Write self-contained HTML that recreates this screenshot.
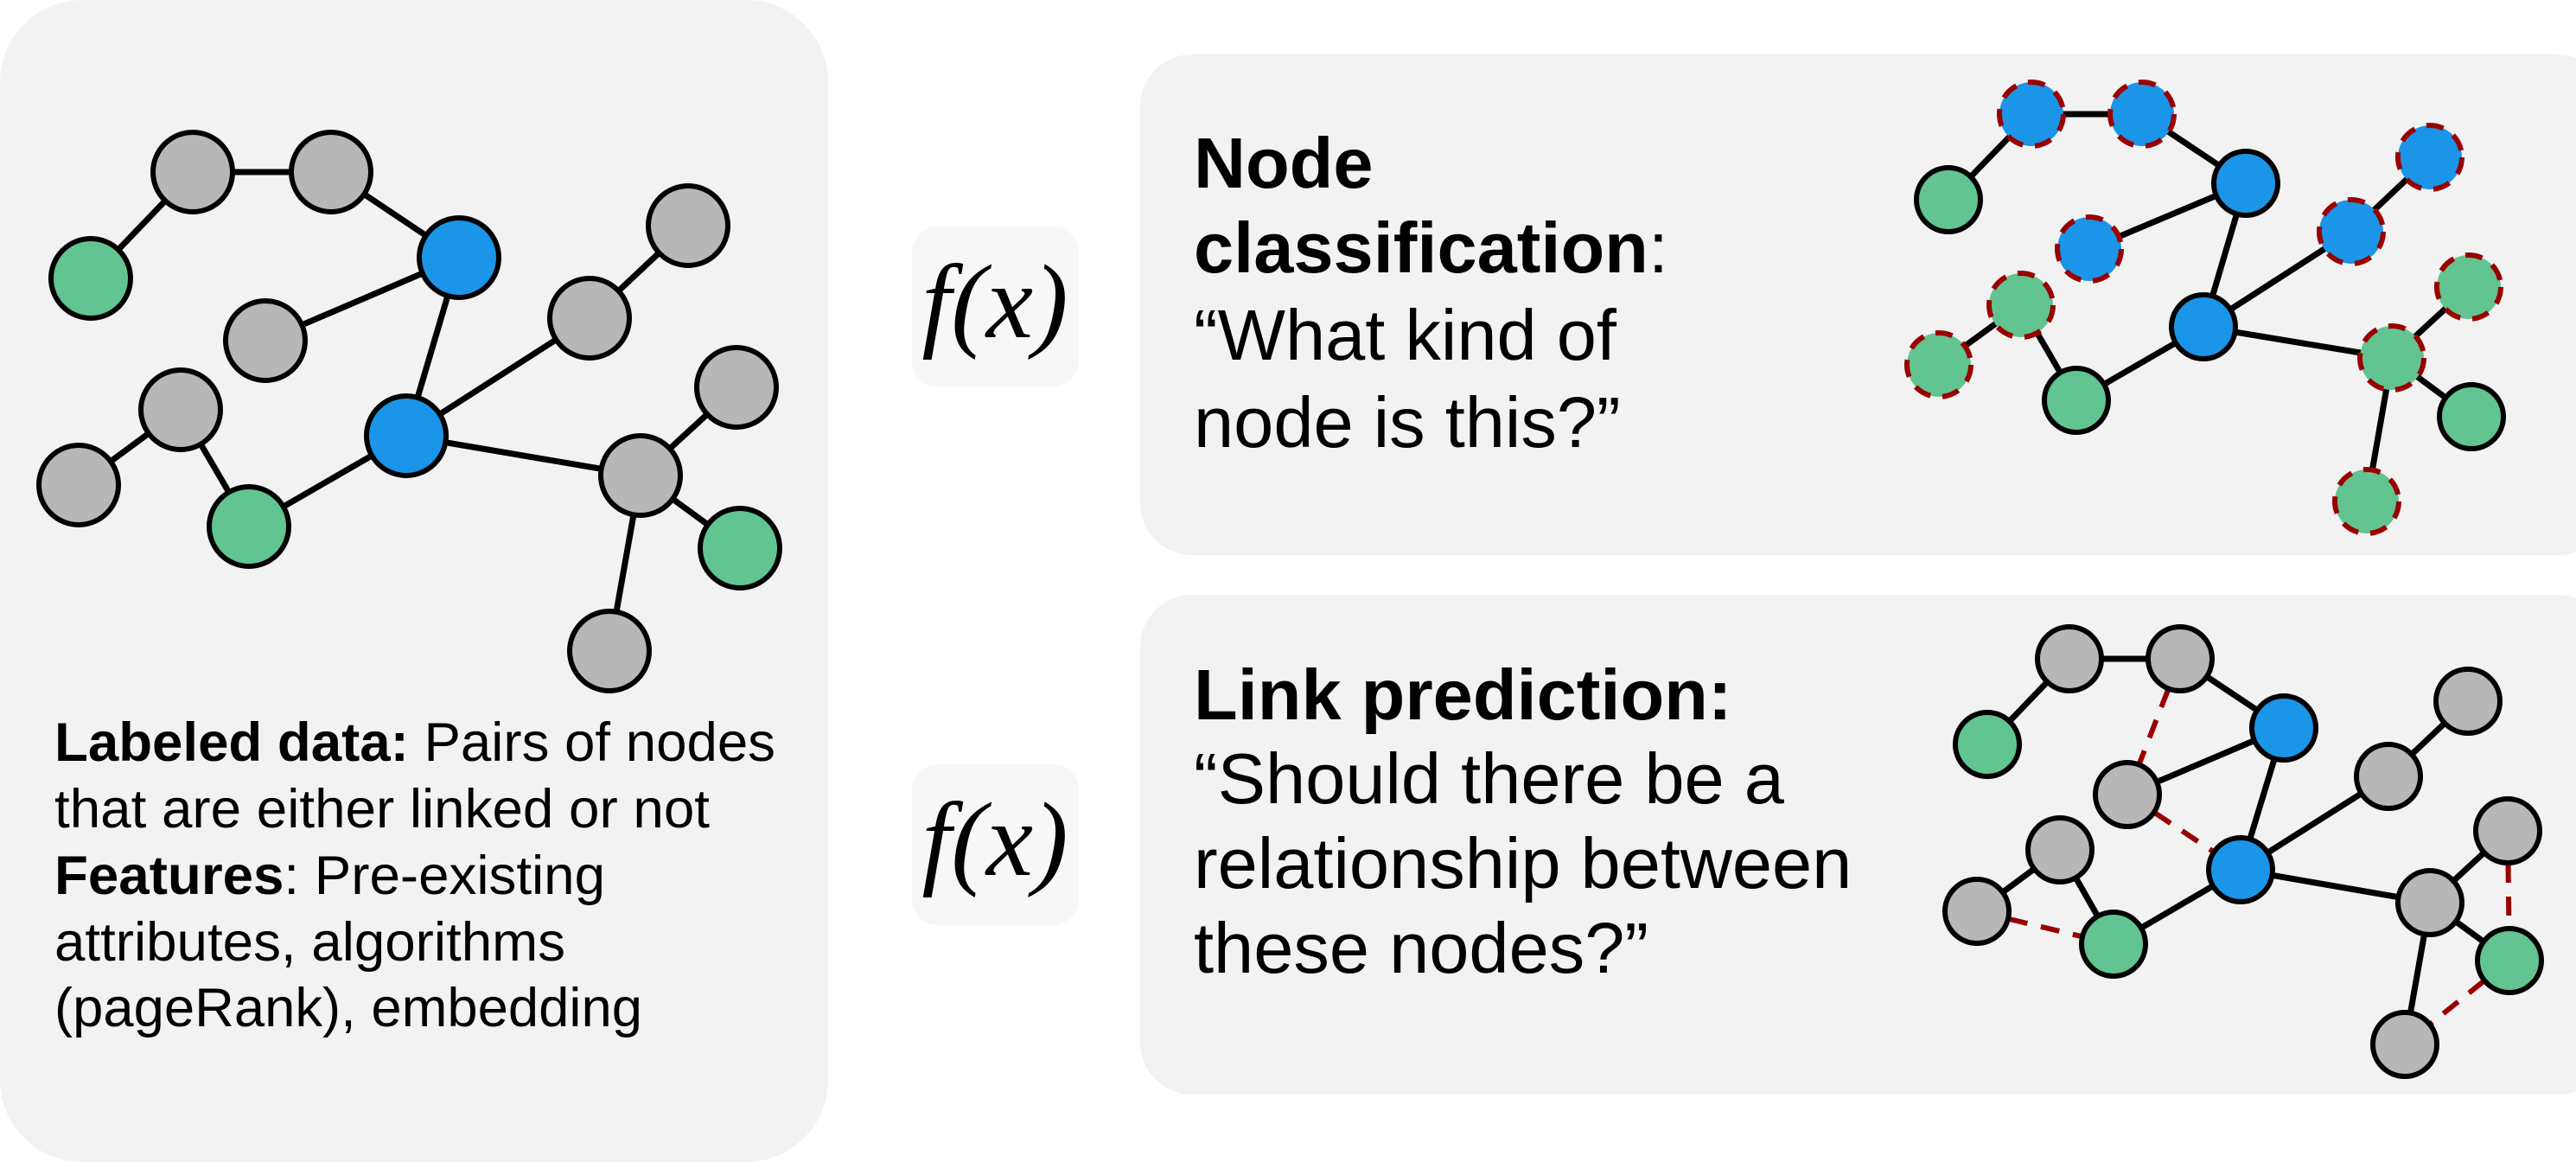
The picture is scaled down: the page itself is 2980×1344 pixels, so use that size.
<!DOCTYPE html>
<html><head><meta charset="utf-8"><style>
html,body{margin:0;padding:0;background:#fff;}
svg{display:block;}
text{font-family:"Liberation Sans",Arial,sans-serif;fill:#000;}
</style></head><body>
<svg width="2980" height="1344" viewBox="0 0 2980 1344" xmlns="http://www.w3.org/2000/svg">
<rect x="0" y="0" width="958" height="1344" rx="95" ry="95" fill="#f2f2f2"/>
<rect x="1319" y="63" width="1700" height="579" rx="60" ry="60" fill="#f2f2f2"/>
<rect x="1319" y="688" width="1700" height="578" rx="60" ry="60" fill="#f2f2f2"/>
<rect x="1055" y="262" width="193" height="185" rx="30" fill="#f7f7f7"/>
<rect x="1055" y="884" width="193" height="186" rx="30" fill="#f7f7f7"/>
<text x="1151" y="390" text-anchor="middle" style="font-family:'Liberation Serif',serif;font-style:italic;font-size:122px">f(x)</text>
<text x="1151" y="1012" text-anchor="middle" style="font-family:'Liberation Serif',serif;font-style:italic;font-size:122px">f(x)</text>

<!-- left graph -->
<g stroke="#000" stroke-width="7">
<line x1="105" y1="322" x2="223" y2="199"/><line x1="223" y1="199" x2="383" y2="199"/>
<line x1="383" y1="199" x2="531" y2="298"/><line x1="531" y1="298" x2="307" y2="394"/>
<line x1="531" y1="298" x2="470" y2="504"/><line x1="470" y1="504" x2="682" y2="368"/>
<line x1="682" y1="368" x2="796" y2="261"/><line x1="209" y1="474" x2="91" y2="561"/>
<line x1="209" y1="474" x2="288" y2="609"/><line x1="288" y1="609" x2="470" y2="504"/>
<line x1="470" y1="504" x2="741" y2="550"/><line x1="741" y1="550" x2="852" y2="448"/>
<line x1="741" y1="550" x2="856" y2="634"/><line x1="741" y1="550" x2="705" y2="753"/>
</g>
<g stroke="#000" stroke-width="6">
<circle cx="223" cy="199" r="46" fill="#b7b7b7"/><circle cx="383" cy="199" r="46" fill="#b7b7b7"/>
<circle cx="105" cy="322" r="46" fill="#62c491"/><circle cx="531" cy="298" r="46" fill="#1a95e8"/>
<circle cx="307" cy="394" r="46" fill="#b7b7b7"/><circle cx="796" cy="261" r="46" fill="#b7b7b7"/>
<circle cx="682" cy="368" r="46" fill="#b7b7b7"/><circle cx="209" cy="474" r="46" fill="#b7b7b7"/>
<circle cx="91" cy="561" r="46" fill="#b7b7b7"/><circle cx="288" cy="609" r="46" fill="#62c491"/>
<circle cx="470" cy="504" r="46" fill="#1a95e8"/><circle cx="852" cy="448" r="46" fill="#b7b7b7"/>
<circle cx="741" cy="550" r="46" fill="#b7b7b7"/><circle cx="856" cy="634" r="46" fill="#62c491"/>
<circle cx="705" cy="753" r="46" fill="#b7b7b7"/>
</g>

<g style="font-size:63px">
<text x="63" y="880" textLength="834" lengthAdjust="spacingAndGlyphs"><tspan font-weight="bold">Labeled data:</tspan> Pairs of nodes</text>
<text x="63" y="957" textLength="758" lengthAdjust="spacingAndGlyphs">that are either linked or not</text>
<text x="63" y="1034" textLength="637" lengthAdjust="spacingAndGlyphs"><tspan font-weight="bold">Features</tspan>: Pre-existing</text>
<text x="63" y="1111" textLength="591" lengthAdjust="spacingAndGlyphs">attributes, algorithms</text>
<text x="63" y="1187" textLength="680" lengthAdjust="spacingAndGlyphs">(pageRank), embedding</text>
</g>

<g style="font-size:83px">
<text x="1381" y="217" font-weight="bold">Node</text>
<text x="1381" y="315"><tspan font-weight="bold">classification</tspan>:</text>
<text x="1381" y="416">“What kind of</text>
<text x="1381" y="517">node is this?”</text>
<text x="1381" y="832" font-weight="bold">Link prediction:</text>
<text x="1381" y="929">“Should there be a</text>
<text x="1381" y="1027">relationship between</text>
<text x="1381" y="1125">these nodes?”</text>
</g>

<!-- top right graph -->
<g stroke="#000" stroke-width="7">
<line x1="2254" y1="231" x2="2350" y2="132"/><line x1="2350" y1="132" x2="2478" y2="132"/>
<line x1="2478" y1="132" x2="2598" y2="212"/><line x1="2598" y1="212" x2="2417" y2="288"/>
<line x1="2598" y1="212" x2="2549" y2="378"/><line x1="2549" y1="378" x2="2720" y2="268"/>
<line x1="2720" y1="268" x2="2811" y2="182"/><line x1="2338" y1="353" x2="2243" y2="422"/>
<line x1="2338" y1="353" x2="2402" y2="463"/><line x1="2402" y1="463" x2="2549" y2="378"/>
<line x1="2549" y1="378" x2="2767" y2="414"/><line x1="2767" y1="414" x2="2856" y2="332"/>
<line x1="2767" y1="414" x2="2859" y2="482"/><line x1="2767" y1="414" x2="2738" y2="580"/>
</g>
<g stroke="#000" stroke-width="6">
<circle cx="2254" cy="231" r="37" fill="#62c491"/><circle cx="2598" cy="212" r="37" fill="#1a95e8"/>
<circle cx="2402" cy="463" r="37" fill="#62c491"/><circle cx="2549" cy="378" r="37" fill="#1a95e8"/>
<circle cx="2859" cy="482" r="37" fill="#62c491"/>
</g>
<g stroke="#990000" stroke-width="6" stroke-dasharray="20 14">
<circle cx="2350" cy="132" r="37" fill="#1a95e8"/><circle cx="2478" cy="132" r="37" fill="#1a95e8"/>
<circle cx="2417" cy="288" r="37" fill="#1a95e8"/><circle cx="2811" cy="182" r="37" fill="#1a95e8"/>
<circle cx="2720" cy="268" r="37" fill="#1a95e8"/><circle cx="2338" cy="353" r="37" fill="#62c491"/>
<circle cx="2243" cy="422" r="37" fill="#62c491"/><circle cx="2856" cy="332" r="37" fill="#62c491"/>
<circle cx="2767" cy="414" r="37" fill="#62c491"/><circle cx="2738" cy="580" r="37" fill="#62c491"/>
</g>

<!-- bottom right graph -->
<g stroke="#000" stroke-width="7">
<line x1="2299" y1="861" x2="2394" y2="762"/><line x1="2394" y1="762" x2="2522" y2="762"/>
<line x1="2522" y1="762" x2="2642" y2="842"/><line x1="2642" y1="842" x2="2461" y2="919"/>
<line x1="2642" y1="842" x2="2592" y2="1006"/><line x1="2592" y1="1006" x2="2763" y2="898"/>
<line x1="2763" y1="898" x2="2855" y2="811"/><line x1="2383" y1="983" x2="2287" y2="1054"/>
<line x1="2383" y1="983" x2="2445" y2="1092"/><line x1="2445" y1="1092" x2="2592" y2="1006"/>
<line x1="2592" y1="1006" x2="2811" y2="1044"/><line x1="2811" y1="1044" x2="2901" y2="961"/>
<line x1="2811" y1="1044" x2="2903" y2="1111"/><line x1="2811" y1="1044" x2="2782" y2="1208"/>
</g>
<g stroke="#990000" stroke-width="6" stroke-dasharray="22 16">
<line x1="2522" y1="762" x2="2461" y2="919"/><line x1="2461" y1="919" x2="2592" y2="1006"/>
<line x1="2287" y1="1054" x2="2445" y2="1092"/><line x1="2901" y1="961" x2="2903" y2="1111"/>
<line x1="2903" y1="1111" x2="2782" y2="1208"/>
</g>
<g stroke="#000" stroke-width="6">
<circle cx="2299" cy="861" r="37" fill="#62c491"/><circle cx="2394" cy="762" r="37" fill="#b7b7b7"/>
<circle cx="2522" cy="762" r="37" fill="#b7b7b7"/><circle cx="2642" cy="842" r="37" fill="#1a95e8"/>
<circle cx="2461" cy="919" r="37" fill="#b7b7b7"/><circle cx="2855" cy="811" r="37" fill="#b7b7b7"/>
<circle cx="2763" cy="898" r="37" fill="#b7b7b7"/><circle cx="2383" cy="983" r="37" fill="#b7b7b7"/>
<circle cx="2287" cy="1054" r="37" fill="#b7b7b7"/><circle cx="2445" cy="1092" r="37" fill="#62c491"/>
<circle cx="2592" cy="1006" r="37" fill="#1a95e8"/><circle cx="2901" cy="961" r="37" fill="#b7b7b7"/>
<circle cx="2811" cy="1044" r="37" fill="#b7b7b7"/><circle cx="2903" cy="1111" r="37" fill="#62c491"/>
<circle cx="2782" cy="1208" r="37" fill="#b7b7b7"/>
</g>
</svg>
</body></html>
